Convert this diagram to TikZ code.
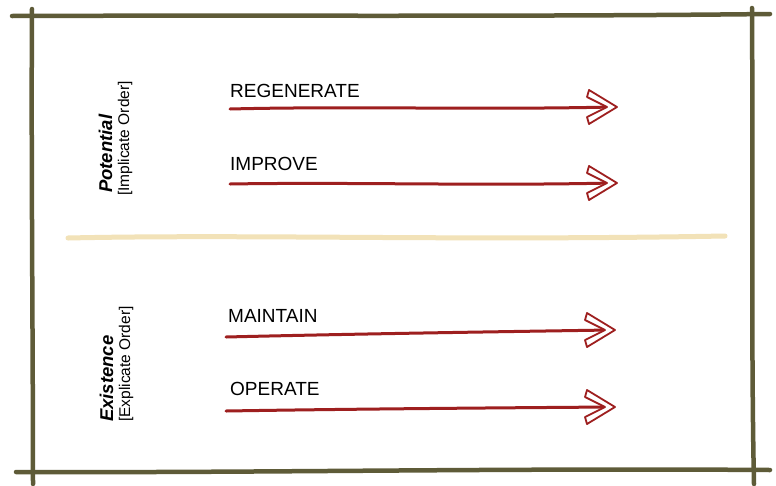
\documentclass[tikz,border=0pt]{standalone}
\usepackage{fontspec}
\setmainfont{Liberation Sans}
\definecolor{frame}{HTML}{5E5B38}
\definecolor{arrowred}{HTML}{9E1F1F}
\definecolor{divider}{HTML}{F2E2B8}
\tikzset{
  framestroke/.style={draw=frame, line width=4.5pt, line cap=round},
  redline/.style={draw=arrowred, line width=3pt, line cap=round},
  chevron/.style={draw=arrowred, line width=1.8pt, line join=round, fill=white},
  lbl/.style={anchor=south west, inner sep=0pt, font=\fontsize{19}{19}\selectfont},
  sidetitle/.style={rotate=90, anchor=south west, inner sep=0pt, font=\fontsize{18.5}{19}\selectfont\bfseries\itshape},
  sidesub/.style={rotate=90, anchor=south west, inner sep=0pt, font=\fontsize{15.5}{16}\selectfont},
}
\usetikzlibrary{calc}
\newcommand{\chev}[1]{%
  \draw[chevron] ($(#1)+(5,0)$) -- ++(-28,-17) -- ++(-2,7) -- ++(20,10) -- ++(-20,10) -- ++(2,7) -- cycle;}
\begin{document}
\begin{tikzpicture}[x=1pt,y=-1pt]
\useasboundingbox (0,0) rectangle (776,485);
\fill[white] (0,0) rectangle (776,485);
% frame
\coordinate (tl) at (12,16);
\coordinate (tr) at (770,14);
\coordinate (bl) at (16,472);
\coordinate (br) at (770,470);
\coordinate (lt) at (32,9);
\coordinate (lb) at (33,484);
\coordinate (rt) at (752,8);
\coordinate (rb) at (754,484);
\draw[framestroke] (tl) .. controls (250,15) and (500,17) .. (tr);
\draw[framestroke] (bl) .. controls (250,473) and (500,468) .. (br);
\draw[framestroke] (lt) .. controls (31,150) and (33,350) .. (lb);
\draw[framestroke] (rt) .. controls (753,150) and (751,350) .. (rb);
% divider
\coordinate (d1) at (68,238);
\coordinate (d2) at (725,236);
\draw[draw=divider, line width=5pt, line cap=round] (d1) .. controls (250,234) and (450,241) .. (d2);
% side labels (rotated; south west anchor = bottom end, baseline side)
\node[sidetitle] (pot) at (112.5,193) {Potential};
\node[sidesub] (imp) at (132.5,196) {[Implicate Order]};
\node[sidetitle] (exi) at (113.5,422) {Existence};
\node[sidesub] (exp) at (133.5,422) {[Explicate Order]};
% labels
\node[lbl] (t1) at (230,98) {REGENERATE};
\node[lbl] (t2) at (230,171) {IMPROVE};
\node[lbl] (t3) at (228,323) {MAINTAIN};
\node[lbl] (t4) at (230,396) {OPERATE};
% arrows
\coordinate (a1s) at (230,109); \coordinate (a1e) at (612,107);
\coordinate (a2s) at (230,184); \coordinate (a2e) at (612,183);
\coordinate (a3s) at (226,337); \coordinate (a3e) at (610,330);
\coordinate (a4s) at (226,411); \coordinate (a4e) at (610,407);
\draw[redline] (a1s) .. controls (350,106) and (480,110) .. (a1e);
\draw[redline] (a2s) .. controls (350,182) and (480,186) .. (a2e);
\draw[redline] (a3s) .. controls (350,334) and (480,332) .. (a3e);
\draw[redline] (a4s) .. controls (350,409) and (480,408) .. (a4e);
\chev{a1e}
\chev{a2e}
\chev{a3e}
\chev{a4e}
\end{tikzpicture}
\end{document}
